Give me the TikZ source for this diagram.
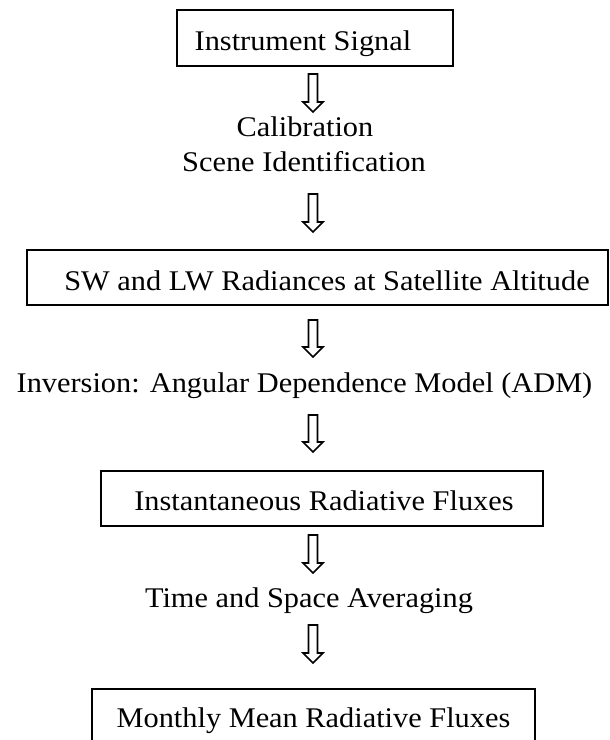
\documentclass[tikz,border=0pt]{standalone}
\usepackage{fontspec}
\setmainfont{Liberation Serif}[FakeStretch=1.065]
\begin{document}
\begin{tikzpicture}[x=1pt,y=-1pt,
  boxline/.style={draw=black, line width=2pt},
  lbl/.style={inner sep=0pt, font=\fontsize{28.5}{34}\selectfont, anchor=base},
  arrowline/.style={draw=black, fill=white, line width=1.6pt, line join=miter}]
\useasboundingbox (0,0) rectangle (610,740);
\clip (0,0) rectangle (610,740);
\newcommand\darrow[3]{%
  \coordinate (#1s) at (313,#2);
  \coordinate (#1e) at (313,#3);
  \draw[arrowline] (308.5,#2) -- (317.5,#2) -- (317.5,{#3-10}) -- (323,{#3-10})
     -- (#1e) -- (303,{#3-10}) -- (308.5,{#3-10}) -- cycle;}
% boxes
\draw[boxline] (177,10) rectangle (453,66);
\draw[boxline] (27,250) rectangle (608,305);
\draw[boxline] (101,471) rectangle (543,526);
\draw[boxline] (92,689) rectangle (535,760);
% texts
\node[lbl] (t1) at (303,50) {Instrument Signal};
\node[lbl] (t2) at (305,136) {Calibration};
\node[lbl] (t3) at (304,171) {Scene Identification};
\node[lbl] (t4) at (327,290) {SW and LW Radiances at Satellite Altitude};
\node[lbl] (t5) at (304.5,392) {Inversion: Angular Dependence Model (ADM)};
\node[lbl] (t6) at (324,510) {Instantaneous Radiative Fluxes};
\node[lbl] (t7) at (309,607) {Time and Space Averaging};
\node[lbl] (t8) at (313.5,727) {Monthly Mean Radiative Fluxes};
% arrows
\darrow{a1}{74}{112}
\darrow{a2}{194}{232}
\darrow{a3}{320}{357}
\darrow{a4}{415}{452}
\darrow{a5}{535}{573}
\darrow{a6}{625}{663}
\end{tikzpicture}
\end{document}
